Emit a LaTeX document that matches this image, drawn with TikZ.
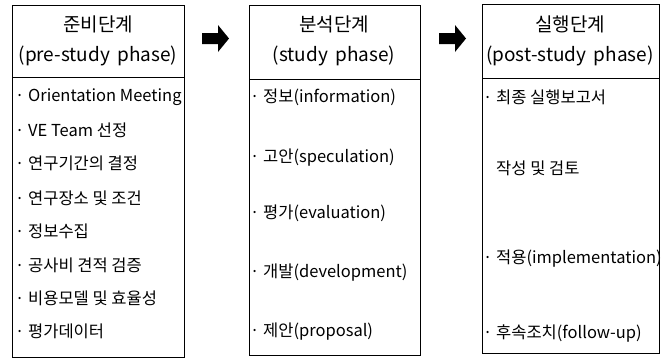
\documentclass[tikz,border=0pt]{standalone}
\usepackage{fontspec}
\setmainfont{Noto Sans CJK KR}
\begin{document}
\begin{tikzpicture}[x=1pt,y=-1pt,
  box/.style={draw=black,line width=0.9pt},
  itm/.style={anchor=west,inner sep=0pt,font=\fontsize{16.5}{18}\selectfont},
  ttl/.style={anchor=center,inner sep=0pt,font=\fontsize{19}{21}\selectfont},
  blk/.style={fill=black}]
\useasboundingbox (0,0) rectangle (670,362);
% boxes
\node[box,minimum width=172pt,minimum height=72pt,anchor=north west,inner sep=0pt] (h1) at (12,5) {};
\node[box,minimum width=172pt,minimum height=280pt,anchor=north west,inner sep=0pt] (b1) at (12,77) {};
\node[box,minimum width=171pt,minimum height=74pt,anchor=north west,inner sep=0pt] (h2) at (249,5) {};
\node[box,minimum width=171pt,minimum height=276pt,anchor=north west,inner sep=0pt] (b2) at (249,79) {};
\node[box,minimum width=177pt,minimum height=74pt,anchor=north west,inner sep=0pt] (h3) at (482,4) {};
\node[box,minimum width=177pt,minimum height=275pt,anchor=north west,inner sep=0pt] (b3) at (482,78) {};
% titles
\node[ttl] (t1a) at (98,24) {준비단계};
\node[ttl] (t1b) at (98,56) {(pre-study\ \,phase)};
\node[ttl] (t2a) at (334,24) {분석단계};
\node[ttl] (t2b) at (334,56) {(study\ \,phase)};
\node[ttl] (t3a) at (570,24) {실행단계};
\node[ttl] (t3b) at (570,56) {(post-study\ \,phase)};
% items box 1
\node[itm] (a1) at (15,97) {· Orientation Meeting};
\node[itm] (a2) at (15,130) {· VE Team 선정};
\node[itm] (a3) at (15,163) {· 연구기간의 결정};
\node[itm] (a4) at (15,198) {· 연구장소 및 조건};
\node[itm] (a5) at (15,231) {· 정보수집};
\node[itm] (a6) at (15,265) {· 공사비 견적 검증};
\node[itm] (a7) at (15,298) {· 비용모델 및 효율성};
\node[itm] (a8) at (15,331) {· 평가데이터};
% items box 2
\node[itm] (c1) at (250,97) {· 정보(information)};
\node[itm] (c2) at (250,158) {· 고안(speculation)};
\node[itm] (c3) at (250,213) {· 평가(evaluation)};
\node[itm] (c4) at (250,273) {· 개발(development)};
\node[itm] (c5) at (250,332) {· 제안(proposal)};
% items box 3
\node[itm] (d1) at (483,97) {· 최종 실행보고서};
\node[itm] (d2) at (496,168) {작성 및 검토};
\node[itm] (d3) at (483,259) {· 적용(implementation)};
\node[itm] (d4) at (483,334) {· 후속조치(follow-up)};
% arrows
\coordinate (p1) at (202,38.5);
\fill[blk] (p1) ++(0,-5.5) -- ++(16,0) -- ++(0,-8) -- ++(11,13.5) -- ++(-11,13.5) -- ++(0,-8) -- ++(-16,0) -- cycle;
\coordinate (p2) at (439,38.5);
\fill[blk] (p2) ++(0,-5.5) -- ++(16,0) -- ++(0,-8) -- ++(11,13.5) -- ++(-11,13.5) -- ++(0,-8) -- ++(-16,0) -- cycle;
\end{tikzpicture}
\end{document}
